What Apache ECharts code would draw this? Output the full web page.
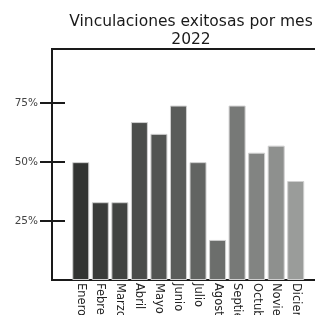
<!DOCTYPE html>
<html>
<head>
<meta charset="utf-8">
<script src="https://cdn.jsdelivr.net/npm/echarts@6/dist/echarts.min.js"></script>
<style>
html,body{margin:0;padding:0;background:#fff;}
#main{width:315px;height:315px;}
</style>
</head>
<body>
<div id="main"></div>
<script>
var meses = ['Enero','Febrero','Marzo','Abril','Mayo','Junio','Julio','Agosto','Septiembre','Octubre','Noviembre','Diciembre'];
var valores = [50, 33, 33, 67, 62, 74, 50, 17, 74, 54, 57, 42];
var colores = ['#323432','#3a3c3a','#424442','#4a4c4a','#525452','#5a5c5a','#626462','#6c6e6c','#777977','#828482','#8e908e','#9a9c9a'];
var marcas = [25, 50, 75];

var chart = echarts.init(document.getElementById('main'));

var datos = [];
for (var i = 0; i < valores.length; i++) {
	datos.push({value: valores[i], itemStyle: {color: colores[i]}});
}

chart.setOption({
	animation: false,
	title: {
		text: 'Vinculaciones exitosas por mes\n2022',
		left: 186,
		top: 8,
		textAlign: 'center',
		textStyle: {fontFamily: 'DejaVu Sans', fontSize: 15.5, fontWeight: 'normal', color: '#1a1a1a', lineHeight: 18}
	},
	grid: [
		// marco
		{left: 52, right: -10, top: 49, bottom: 35, show: true, borderColor: '#1a1a1a', borderWidth: 2, containLabel: false, outerBoundsMode: 'none'},
		// barras
		{left: 71, right: 9.5, top: 49, bottom: 35, containLabel: false, outerBoundsMode: 'none'}
	],
	xAxis: [
		{gridIndex: 0, type: 'value', show: false},
		{
			gridIndex: 1,
			type: 'category',
			data: meses,
			axisLine: {show: false},
			axisTick: {show: false},
			axisLabel: {rotate: -90, margin: 3, fontFamily: 'DejaVu Sans', fontSize: 11.5, color: '#222'}
		}
	],
	yAxis: [
		{
			gridIndex: 0,
			type: 'value',
			min: 0,
			max: 98,
			splitLine: {show: false},
			axisLine: {show: true, lineStyle: {color: '#1a1a1a', width: 2}},
			axisTick: {show: true, length: 12, customValues: marcas, lineStyle: {color: '#1a1a1a', width: 2}},
			axisLabel: {customValues: marcas, margin: 14, formatter: '{value}%', fontFamily: 'DejaVu Sans', fontSize: 10.5, color: '#444'}
		},
		{
			gridIndex: 0,
			type: 'value',
			position: 'left',
			min: 0,
			max: 98,
			splitLine: {show: false},
			axisLine: {show: false},
			axisTick: {show: true, inside: true, length: 13, customValues: marcas, lineStyle: {color: '#1a1a1a', width: 2}},
			axisLabel: {show: false}
		},
		{gridIndex: 1, type: 'value', min: 0, max: 98, show: false}
	],
	series: [{
		type: 'bar',
		xAxisIndex: 1,
		yAxisIndex: 2,
		barWidth: 17,
		data: datos,
		itemStyle: {borderColor: '#d0d0d0', borderWidth: 1}
	}]
});
</script>
</body>
</html>
